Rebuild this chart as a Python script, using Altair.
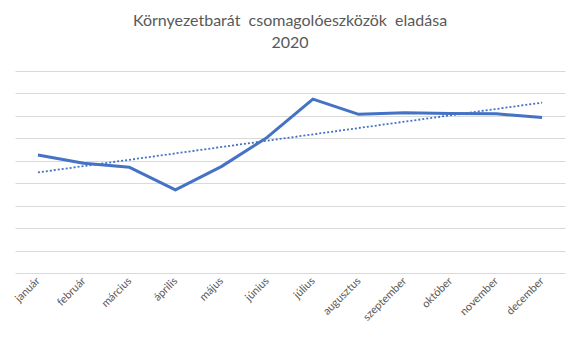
import altair as alt
import pandas as pd

months = ["január", "február", "március", "április", "május", "június",
          "július", "augusztus", "szeptember", "október", "november", "december"]
sales = [5.26, 4.89, 4.71, 3.70, 4.74, 6.04, 7.75, 7.07, 7.14, 7.11, 7.09, 6.93]
idx = list(range(len(months)))

df = pd.DataFrame({"month": months, "value": sales, "idx": idx})

FONT = "Lato"
GRAY = "#595959"
BLUE = "#4472C4"

x_enc = alt.X("month:N", sort=months,
              scale=alt.Scale(padding=0.5),
              axis=alt.Axis(title=None, labelAngle=-45, labelAlign="right",
                            labelBaseline="middle", ticks=False, domain=False,
                            labelPadding=6, labelFontSize=11, labelColor=GRAY,
                            labelFont=FONT, grid=False))
y_enc = alt.Y("value:Q", scale=alt.Scale(domain=[0, 9], nice=False, zero=True),
              axis=alt.Axis(title=None, labels=False, ticks=False, domain=False,
                            values=list(range(10)), grid=True,
                            gridColor="#d9d9d9", gridWidth=1.2))

base = alt.Chart(df)

line = base.mark_line(color=BLUE, strokeWidth=3, strokeJoin="round").encode(
    x=x_enc, y=y_enc)

trend = base.transform_regression("idx", "value").transform_lookup(
    lookup="idx",
    from_=alt.LookupData(data=df, key="idx", fields=["month"])
).mark_line(color=BLUE, strokeWidth=1.8, strokeDash=[2, 2]).encode(
    x=x_enc, y=y_enc)

chart = alt.layer(trend, line).properties(
    width=550, height=202,
    autosize=alt.AutoSizeParams(type="none"),
    padding={"left": 15, "right": 15, "top": 71, "bottom": 67},
    title=alt.TitleParams(text=["Környezetbarát\u00a0 csomagolóeszközök\u00a0 eladása", "2020"],
                          font=FONT, fontSize=16, fontWeight="normal",
                          color=GRAY, anchor="middle", offset=20, lineHeight=22),
    background="white",
).configure_view(stroke=None)

chart.save("out.html", embed_options={"renderer": "svg", "actions": False})
